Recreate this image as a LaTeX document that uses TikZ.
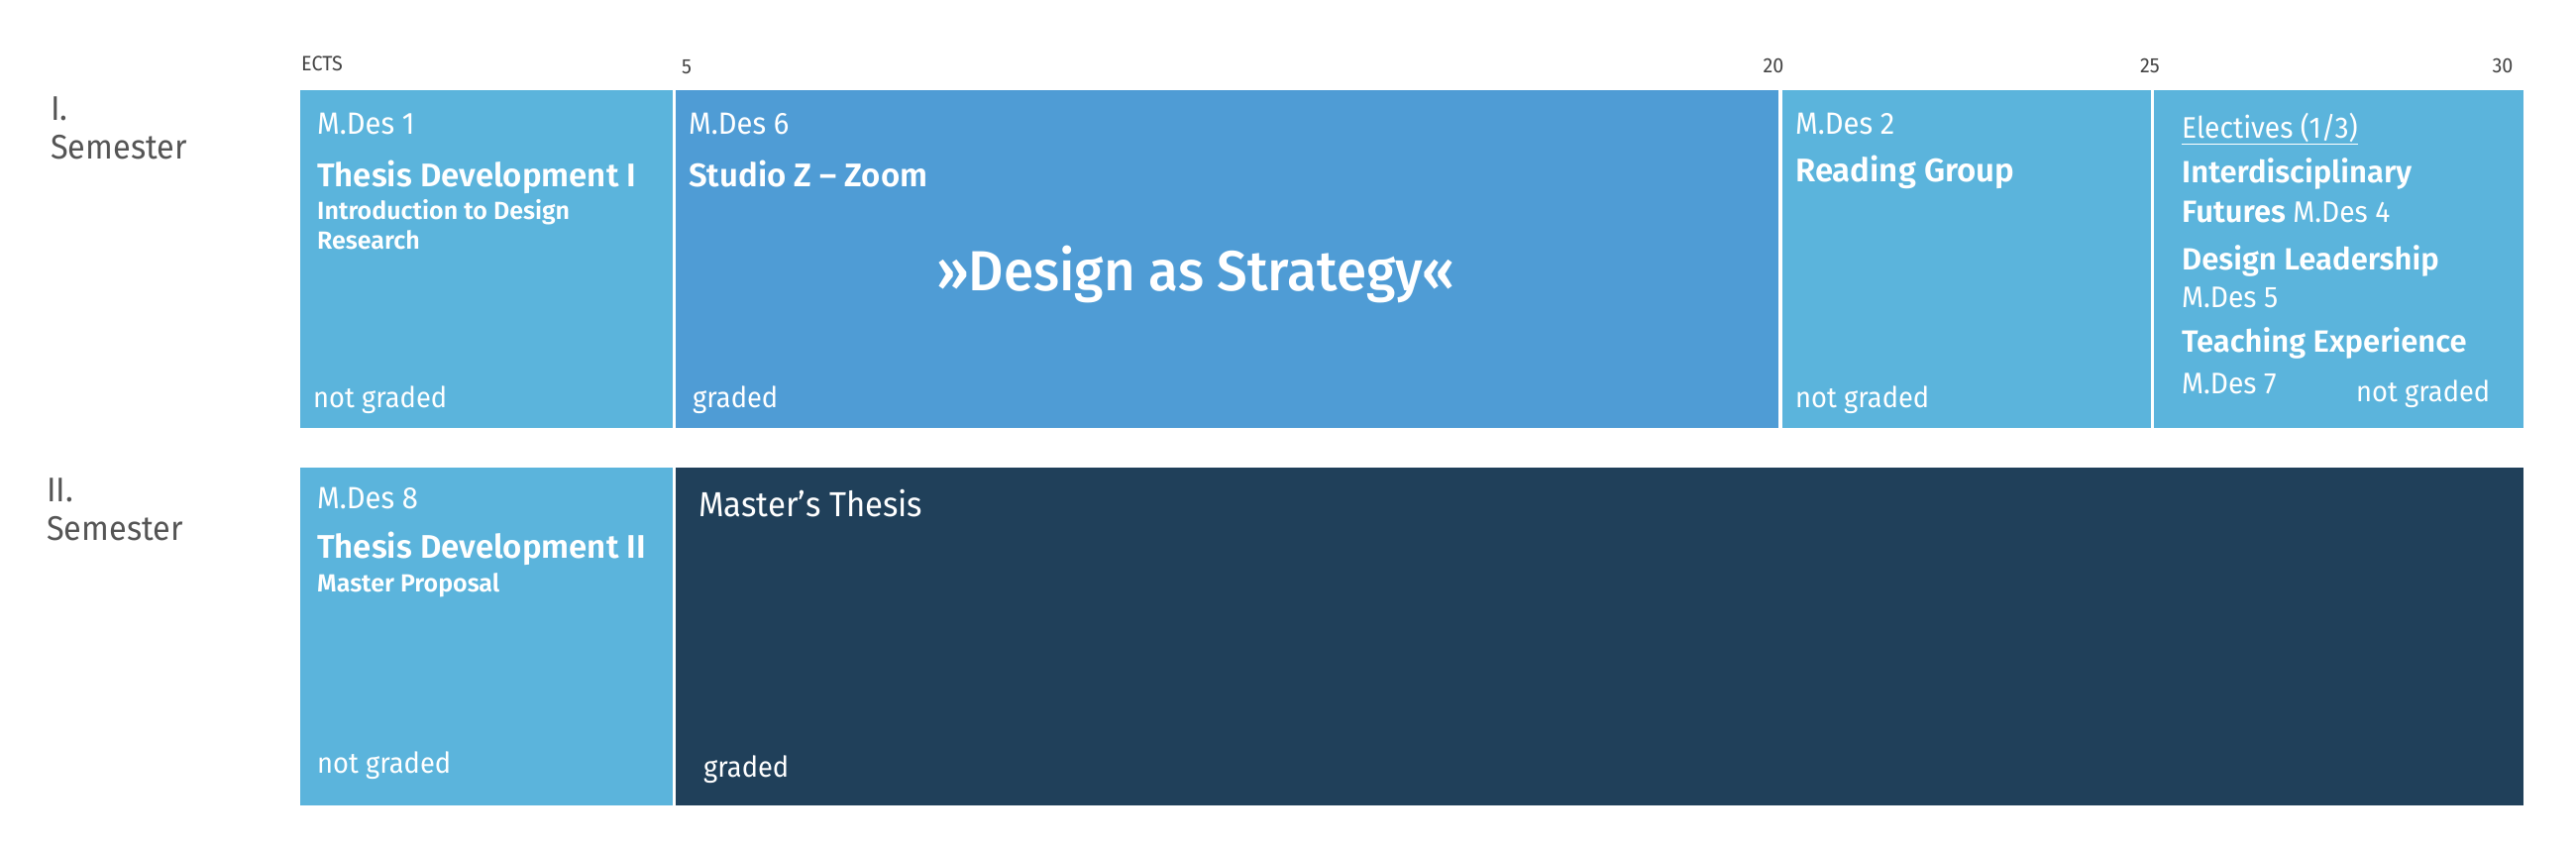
\documentclass[tikz,border=0pt]{standalone}
\usepackage{fontspec}
\setmainfont{Fira Sans}[UprightFeatures = {FakeStretch = 0.94}, BoldFont = {Fira Sans SemiBold}]
\newfontfamily\mottofont{Fira Sans Medium}[FakeStretch = 0.96]
\usepackage{tikz}

\definecolor{lightblue}{HTML}{5BB4DC}
\definecolor{studioblue}{HTML}{4F9CD5}
\definecolor{thesisnavy}{HTML}{20405A}
\definecolor{labelgrey}{HTML}{555555}
\newcommand{\fsz}[1]{\fontsize{#1}{#1}\selectfont}

\begin{document}
\begin{tikzpicture}[x = 1pt, y = -1pt,
		box/.style = {anchor = north west, inner sep = 0, outer sep = 0, minimum height = 341pt},
		txt/.style = {anchor = base west, inner sep = 0, text = white},
		code/.style = {txt, font = \fsz{31}},
		grade/.style = {txt, font = \fsz{29}},
		title/.style = {txt, font = \bfseries\fsz{33}},
		sub/.style = {txt, font = \bfseries\fsz{25}},
		eltitle/.style = {txt, font = \bfseries\fsz{31}},
		elcode/.style = {txt, font = \fsz{30}},
		sem/.style = {anchor = base west, inner sep = 0, text = labelgrey, font = \fsz{34.5}},
		tick/.style = {anchor = base, inner sep = 0, text = labelgrey!80!black, font = \fsz{21}}]
		\useasboundingbox (0, 0) rectangle (2600, 857);
		%%%%%%%%%%%%%
		\node [tick, anchor = base west] (ects) at (304, 71) {ECTS};
		\node [tick] (t5) at (693, 74) {5};
		\node [tick] (t20) at (1790, 73) {20};
		\node [tick] (t25) at (2170, 73) {25};
		\node [tick] (t30) at (2526, 73) {30};
		%%%%%%%%%%%%%
		\node [sem] (s1a) at (51, 121) {I.};
		\node [sem] (s1b) at (51, 160) {Semester};
		\node [sem] (s2a) at (47, 506) {II.};
		\node [sem] (s2b) at (47, 545) {Semester};
		%%%%%%%%%%%%%
		\node [box, fill = lightblue, minimum width = 376pt] (m1) at (303, 91) {};
		\node [box, fill = studioblue, minimum width = 1113pt] (m6) at (682, 91) {};
		\node [box, fill = lightblue, minimum width = 372pt] (m2) at (1799, 91) {};
		\node [box, fill = lightblue, minimum width = 373pt] (el) at (2174, 91) {};
		\node [box, fill = lightblue, minimum width = 376pt] (m8) at (303, 472) {};
		\node [box, fill = thesisnavy, minimum width = 1865pt] (mt) at (682, 472) {};
		%%%%%%%%%%%%%
		\node [code] (m1code) at (320, 135) {M.Des 1};
		\node [title] (m1title) at (320, 188) {Thesis Development I};
		\node [sub] (m1suba) at (320, 221) {Introduction to Design};
		\node [sub] (m1subb) at (320, 251) {Research};
		\node [grade] (m1grade) at (316, 411) {not graded};
		%%%%%%%%%%%%%
		\node [code] (m6code) at (695, 135) {M.Des 6};
		\node [title] (m6title) at (695, 188) {Studio Z -- Zoom};
		\node [txt, font = \mottofont\fsz{57}] (m6motto) at (945, 293) {»Design as Strategy«};
		\node [grade] (m6grade) at (699, 411) {graded};
		%%%%%%%%%%%%%
		\node [code] (m2code) at (1812, 135) {M.Des 2};
		\node [title] (m2title) at (1812, 183) {Reading Group};
		\node [grade] (m2grade) at (1812, 411) {not graded};
		%%%%%%%%%%%%%
		\node [txt, font = \fsz{30}] (elhead) at (2202, 139) {\underline{Electives (1/3)}};
		\node [eltitle] (el4a) at (2202, 184) {Interdisciplinary};
		\node [eltitle] (el4b) at (2202, 224) {Futures {\mdseries\fsz{30}M.Des 4}};
		\node [eltitle] (el5a) at (2202, 272) {Design Leadership};
		\node [elcode] (el5b) at (2202, 310) {M.Des 5};
		\node [eltitle] (el7a) at (2202, 355) {Teaching Experience};
		\node [elcode] (el7b) at (2202, 397) {M.Des 7};
		\node [grade] (elgrade) at (2378, 405) {not graded};
		%%%%%%%%%%%%%
		\node [code] (m8code) at (320, 513) {M.Des 8};
		\node [title] (m8title) at (320, 563) {Thesis Development II};
		\node [sub] (m8sub) at (320, 597) {Master Proposal};
		\node [grade] (m8grade) at (320, 780) {not graded};
		%%%%%%%%%%%%%
		\node [txt, font = \fsz{35}] (mttitle) at (705, 521) {Master’s Thesis};
		\node [grade] (mtgrade) at (710, 784) {graded};
\end{tikzpicture}
\end{document}
